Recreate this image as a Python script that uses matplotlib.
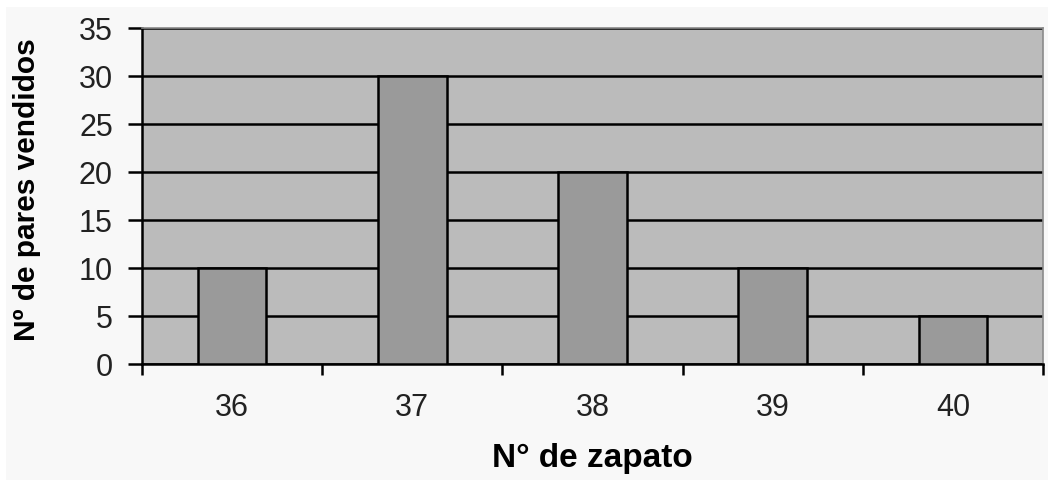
import matplotlib
matplotlib.use("Agg")
import matplotlib.pyplot as plt
from matplotlib.patches import Rectangle

# Shoe sizes and pairs sold
tallas = ["36", "37", "38", "39", "40"]
pares_vendidos = [10, 30, 20, 10, 5]
y_ticks = [0, 5, 10, 15, 20, 25, 30, 35]

plt.rcParams["font.family"] = ["Liberation Sans", "DejaVu Sans"]

fig = plt.figure(figsize=(10.48, 4.8), dpi=100, facecolor="white")
# light panel behind the whole chart
fig.patches.append(Rectangle((6 / 1048, 0), 1, (480 - 7) / 480,
                             transform=fig.transFigure, facecolor="#F8F8F8",
                             edgecolor="none", zorder=-10))

ax = fig.add_axes([142 / 1048, (480 - 364) / 480, (1043 - 142) / 1048, (364 - 28) / 480])
ax.set_zorder(1)
ax.set_facecolor("#BBBBBB")

x = range(len(tallas))
ax.bar(x, pares_vendidos, width=0.38, color="#9A9A9A", edgecolor="black",
       linewidth=1.8, zorder=3)

ax.set_xlim(-0.5, len(tallas) - 0.5)
ax.set_ylim(0, 35)
ax.set_yticks(y_ticks)
ax.yaxis.grid(True, color="black", linewidth=1.8, zorder=1)
ax.set_axisbelow(True)

ax.set_xticks(list(x))
ax.set_xticklabels(tallas)
ax.set_xticks([i - 0.5 for i in range(len(tallas) + 1)], minor=True)
ax.tick_params(axis="x", which="major", length=0, pad=21, labelsize=22, labelcolor="#222222")
ax.tick_params(axis="x", which="minor", length=8, width=1.8, direction="out", color="black")
ax.tick_params(axis="y", length=10, width=1.8, pad=11, labelsize=22, labelcolor="#222222")

for side in ("left", "bottom"):
    ax.spines[side].set_color("black")
    ax.spines[side].set_linewidth(1.8)
for side in ("top", "right"):
    ax.spines[side].set_color("#8A8A8A")
    ax.spines[side].set_linewidth(1.2)

ax.set_xlabel("N° de zapato", fontsize=24, fontweight="bold")
ax.xaxis.set_label_coords(0.5, -0.235)
ax.set_ylabel("Nº de pares vendidos", fontsize=21.5, fontweight="bold")
ax.yaxis.set_label_coords(-0.112, 0.518)

fig.savefig("out.png", dpi=100, facecolor=fig.get_facecolor())
